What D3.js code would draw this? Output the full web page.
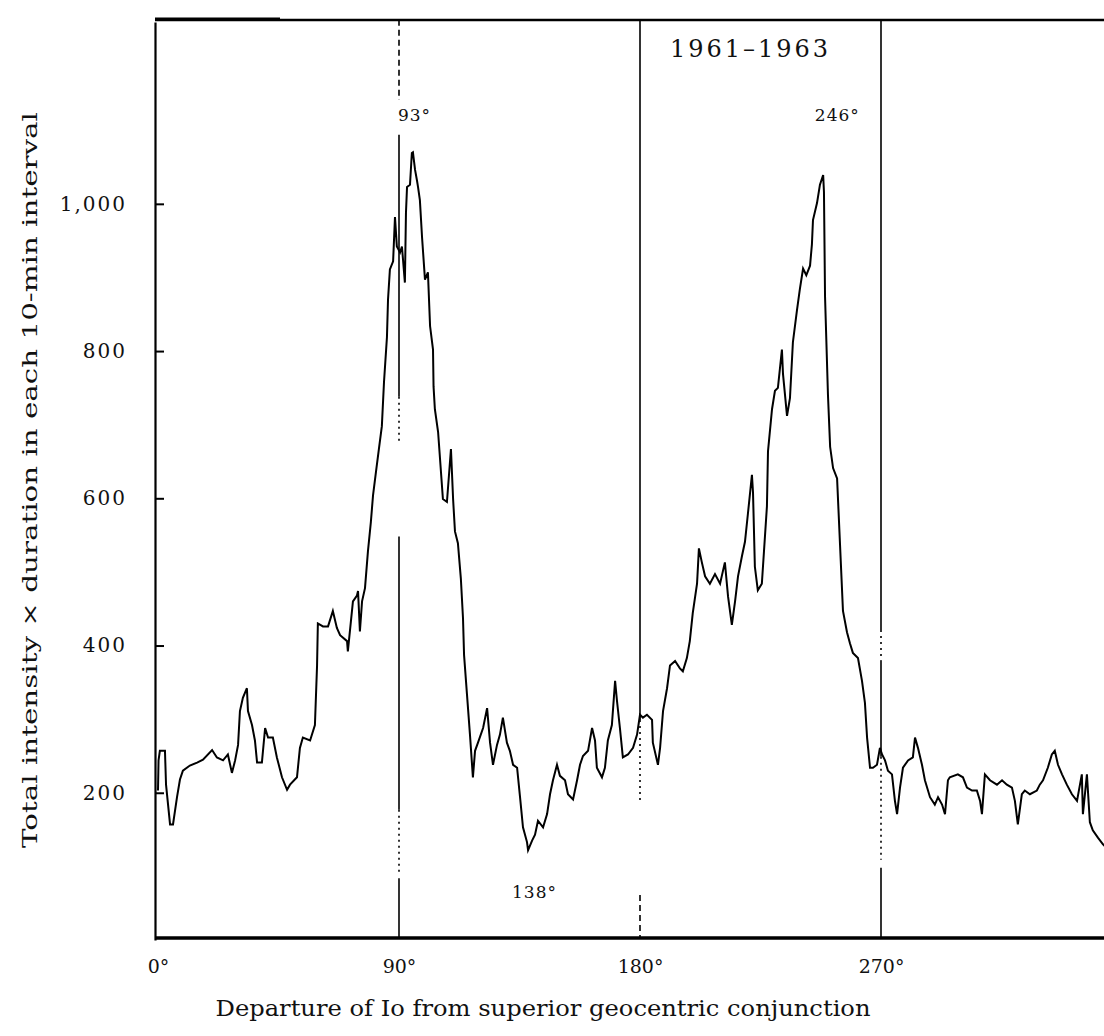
<!DOCTYPE html>
<html><head><meta charset="utf-8">
<script src="https://cdn.jsdelivr.net/npm/d3@7"></script>
<style>html,body{margin:0;padding:0;background:#fff;} svg{display:block;}</style>
</head><body>
<svg id="chart" width="1104" height="1036"></svg>
<script>
// ---- data ----
const angles = [0.0,0.2,0.7,2.6,3.0,4.5,5.6,7.1,8.2,9.3,11.9,14.6,16.8,20.2,22.0,24.3,26.1,27.6,28.8,29.9,30.6,31.7,33.2,33.6,35.1,36.2,37.0,38.8,40.0,41.1,42.9,44.4,46.3,48.2,49.3,51.9,53.0,54.1,56.8,58.6,59.4,59.7,61.6,63.5,65.3,66.8,68.0,70.6,70.9,72.8,74.3,74.7,75.4,76.2,77.3,78.4,79.5,80.3,81.4,82.5,83.6,84.4,85.5,85.9,86.6,87.8,88.5,89.2,90.4,91.1,92.2,92.6,93.0,94.1,94.8,95.2,96.0,96.7,97.1,97.8,98.6,99.7,100.8,101.6,102.7,102.9,103.4,104.6,106.4,107.9,109.4,110.2,110.9,112.0,113.1,113.9,114.3,115.4,116.5,117.6,118.4,119.5,121.4,122.9,124.0,125.1,126.6,127.7,128.8,130.3,131.4,132.6,134.1,135.2,136.3,137.8,138.2,139.7,140.8,141.9,143.8,145.3,146.4,147.5,149.0,150.1,152.0,153.1,155.0,156.5,157.6,158.7,160.6,162.1,163.2,163.9,165.8,166.9,168.0,169.5,170.7,171.4,172.5,173.6,175.5,177.4,178.9,180.0,181.1,182.6,184.5,184.8,186.7,187.5,188.6,190.1,191.2,193.1,194.9,196.0,197.5,198.6,199.7,201.3,202.0,203.1,204.3,206.1,208.0,209.9,211.7,212.9,214.3,215.5,216.6,218.1,219.2,220.3,221.8,222.2,222.9,224.0,225.5,226.3,227.4,227.8,229.3,230.4,231.5,233.0,233.4,234.9,236.0,237.1,238.6,239.7,240.9,242.1,243.5,244.2,244.6,246.1,247.2,248.4,248.7,249.1,250.2,251.0,252.1,253.6,254.7,255.8,257.3,258.4,259.5,261.4,262.9,264.0,264.8,265.9,267.0,268.5,269.6,270.4,271.5,272.6,274.1,275.2,276.0,277.1,278.2,280.1,281.9,282.7,283.8,285.3,286.4,288.3,290.1,291.3,292.8,293.9,295.0,295.7,298.7,300.6,302.1,304.0,305.8,307.0,307.7,308.8,310.7,313.3,315.2,317.0,318.9,320.0,321.1,322.6,323.7,325.6,328.2,329.3,330.5,332.3,333.8,334.9,336.1,337.6,339.4,341.3,343.2,345.0,345.4,346.9,348.0,349.1,351.0,352.9,355.0];
const intensity = [203,244,257,257,211,157,157,194,218,230,237,241,245,258,248,244,252,227,244,265,311,329,342,311,292,271,241,241,288,275,275,248,221,204,211,221,261,275,271,292,373,430,426,426,447,424,414,406,392,460,468,474,419,460,478,528,568,604,636,667,698,758,819,870,911,922,982,942,934,942,893,988,1023,1026,1069,1070,1046,1032,1023,1005,955,897,907,834,802,752,721,690,599,595,667,599,555,539,491,437,387,333,279,221,257,268,288,315,268,238,265,279,302,268,257,238,234,194,153,133,122,135,143,162,153,171,198,217,238,223,217,198,191,217,238,250,257,288,271,234,221,234,271,292,352,325,288,248,252,261,279,306,302,306,299,268,238,261,311,342,373,379,369,365,383,406,444,484,532,513,494,484,497,484,513,466,428,460,494,522,541,579,632,608,507,475,484,528,589,664,721,746,750,802,769,712,736,812,855,884,912,903,916,945,978,1001,1026,1039,1016,874,740,670,641,627,537,447,418,403,390,383,352,322,275,234,234,238,261,252,244,230,225,189,171,207,234,244,248,275,261,238,217,194,184,194,184,171,217,221,225,221,207,203,203,189,171,225,217,211,217,211,207,189,157,198,203,198,203,211,217,234,252,257,238,225,211,198,189,225,171,225,160,149,139,130,122];

const xTicks = [0, 90, 180, 270];
const xTickLabels = ["0°", "90°", "180°", "270°"];
const yTicks = [200, 400, 600, 800, 1000];
const yTickLabels = ["200", "400", "600", "800", "1,000"];

// reference lines: angle, value range of each piece, and its stroke kind
const refAngles = [90, 180, 270];
const refPieces = [
  [90, 1250, 1141, "dash"], [90, 1094, 738, "solid"], [90, 738, 673, "dot"],
  [90, 548, 177, "solid"], [90, 177, 88, "dot"], [90, 84, 0, "solid"],
  [180, 1250, 299, "solid"], [180, 299, 190, "dot"], [180, 61, 0, "dash"],
  [270, 1250, 421, "solid"], [270, 421, 380, "dot"], [270, 380, 249, "solid"],
  [270, 249, 109, "dot"], [270, 98, 0, "solid"]
];

const annotations = [
  {angle: 89.6, value: 1112, text: "93°"},
  {angle: 245.3, value: 1112, text: "246°"},
  {angle: 132.2, value: 57, text: "138°"},
  {angle: 191.2, value: 1200, text: "1961–1963"}
];

const xTitle = "Departure of Io from superior geocentric conjunction";
const yTitle = "Total intensity × duration in each 10-min interval";

// ---- drawing ----
(function draw() {
const svg = d3.select("#chart");
const W = 1104, H = 1036;
const padL = 155, padT = 20, padB = 938;

const x = d3.scaleLinear().domain([0, 270]).range([158, 881]);
const y = d3.scaleLinear().domain([0, 1247]).range([940, 22]);

svg.append("rect").attr("width", W).attr("height", H).attr("fill", "#fff");

svg.append("defs").append("clipPath").attr("id", "plotclip")
  .append("rect").attr("x", padL).attr("y", padT).attr("width", W - padL).attr("height", padB - padT);

const serif = "'DejaVu Serif', 'Liberation Serif', serif";

// reference lines
const dashes = {solid: null, dash: "6,4", dot: "2,4"};
svg.append("g").attr("clip-path", "url(#plotclip)")
  .selectAll("line").data(refPieces).join("line")
  .attr("x1", d => x(d[0])).attr("x2", d => x(d[0]))
  .attr("y1", d => y(d[1])).attr("y2", d => y(d[2]))
  .attr("stroke", "#000").attr("stroke-width", 1.6)
  .attr("stroke-dasharray", d => dashes[d[3]]);

// data line
const pts = angles.map((a, i) => [a, intensity[i]]);
const line = d3.line().x(d => x(d[0])).y(d => y(d[1]));
svg.append("g").attr("clip-path", "url(#plotclip)")
  .append("path").datum(pts)
  .attr("d", line).attr("fill", "none").attr("stroke", "#000")
  .attr("stroke-width", 2).attr("stroke-linejoin", "miter");

// frame: top & bottom
svg.append("line").attr("x1", padL).attr("x2", W).attr("y1", padT).attr("y2", padT)
  .attr("stroke", "#000").attr("stroke-width", 2.5);
svg.append("line").attr("x1", padL).attr("x2", 280).attr("y1", padT - 1).attr("y2", padT - 1)
  .attr("stroke", "#000").attr("stroke-width", 3);
svg.append("line").attr("x1", padL).attr("x2", W).attr("y1", padB).attr("y2", padB)
  .attr("stroke", "#000").attr("stroke-width", 3.5);

// y axis
const yAxis = svg.append("g").attr("transform", `translate(${padL},0)`)
  .call(d3.axisLeft(y).tickValues(yTicks).tickFormat((d, i) => yTickLabels[i])
    .tickSize(-9).tickSizeOuter(0).tickPadding(28));
yAxis.select(".domain").attr("stroke-width", 2.2);
yAxis.selectAll(".tick line").attr("stroke-width", 2);
yAxis.selectAll(".tick text").attr("font-family", serif).attr("font-size", 20)
  .attr("letter-spacing", 2).attr("fill", "#111");

// x axis
const xAxis = svg.append("g").attr("transform", `translate(0,${padB})`)
  .call(d3.axisBottom(x).tickValues(xTicks).tickFormat((d, i) => xTickLabels[i])
    .tickSize(0).tickPadding(22));
xAxis.select(".domain").remove();
xAxis.selectAll(".tick text").attr("font-family", serif).attr("font-size", 19).attr("fill", "#111");

// annotations
svg.append("g").selectAll("text").data(annotations).join("text")
  .attr("x", d => x(d.angle)).attr("y", d => y(d.value))
  .attr("font-family", serif)
  .attr("font-size", d => d.text.length > 5 ? 24 : 17)
  .attr("letter-spacing", d => d.text.length > 5 ? 3 : 1)
  .attr("fill", "#111")
  .text(d => d.text);

// axis titles
svg.append("text").attr("x", 543).attr("y", 1016).attr("text-anchor", "middle")
  .attr("font-family", serif).attr("font-size", 23).attr("fill", "#111")
  .attr("textLength", 655).attr("lengthAdjust", "spacingAndGlyphs")
  .text(xTitle);
svg.append("text").attr("transform", "translate(37,480) rotate(-90)")
  .attr("text-anchor", "middle")
  .attr("font-family", serif).attr("font-size", 21).attr("fill", "#111")
  .attr("textLength", 736).attr("lengthAdjust", "spacingAndGlyphs")
  .text(yTitle);
})();
</script>
</body></html>
